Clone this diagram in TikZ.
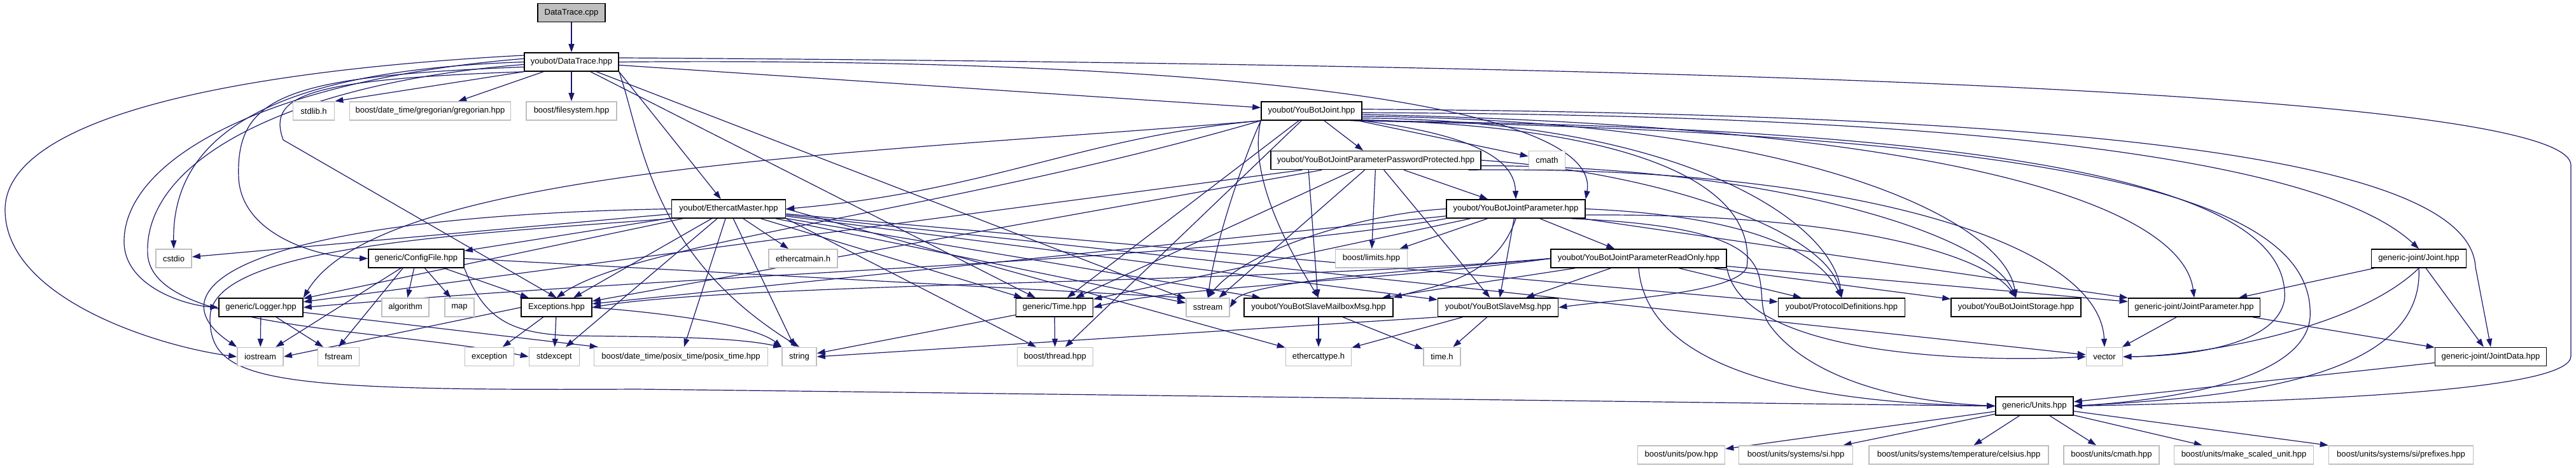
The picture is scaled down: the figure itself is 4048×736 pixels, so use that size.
\documentclass[tikz,border=0pt]{standalone}
\usepackage{fontspec}
\setmainfont{Liberation Sans}
\usetikzlibrary{arrows.meta,backgrounds}
\definecolor{linkblue}{HTML}{191970}
\definecolor{sysline}{HTML}{BFBFBF}
\definecolor{rootfill}{HTML}{BFBFBF}
\tikzset{
  filebox/.style={rectangle, line width=1.6pt, fill=white, minimum height=29pt,
    inner sep=0pt, font=\fontsize{13}{15}\selectfont},
  hdrbox/.style={filebox, draw=black},
  sysbox/.style={filebox, draw=sysline},
  rootbox/.style={hdrbox, fill=rootfill},
  dep/.style={draw=linkblue, line width=1.2pt, -{Triangle[length=13pt,width=9pt]}}
}
\newcommand{\hdr}[5]{%
  \node[hdrbox, minimum width=#4pt] (#1) at (#2,#3) {#5};}
\newcommand{\sys}[5]{%
  \node[sysbox, minimum width=#4pt] (#1) at (#2,#3) {#5};}

\begin{document}
\begin{tikzpicture}[x=1pt,y=-1pt]
  \useasboundingbox (0,0) rectangle (4048,736);
  \node[rootbox, minimum width=106pt] (dtcpp) at (898,20) {DataTrace.cpp};
  \hdr{dthpp}{898}{97.5}{148}{youbot/DataTrace.hpp}
  \sys{stdlibh}{493}{174.5}{65}{stdlib.h}
  \sys{greg}{676}{174.5}{253}{boost/date\_time/gregorian/gregorian.hpp}
  \sys{fsys}{898}{174.5}{142}{boost/filesystem.hpp}
  \hdr{ybjoint}{2061}{174.5}{158}{youbot/YouBotJoint.hpp}
  \hdr{ybpp}{2162}{252}{330}{youbot/YouBotJointParameterPasswordProtected.hpp}
  \sys{cmath}{2431}{252}{57}{cmath}
  \hdr{ecm}{1145}{328.5}{179}{youbot/EthercatMaster.hpp}
  \hdr{ybjp}{2382}{328.5}{218}{youbot/YouBotJointParameter.hpp}
  \sys{cstdio}{273}{406.5}{56}{cstdio}
  \hdr{cfg}{654}{406.5}{150}{generic/ConfigFile.hpp}
  \sys{ecmain}{1262}{406.5}{108}{ethercatmain.h}
  \sys{limits}{2155}{406.5}{113}{boost/limits.hpp}
  \hdr{ybro}{2575}{406.5}{276}{youbot/YouBotJointParameterReadOnly.hpp}
  \hdr{gjoint}{3801}{406.5}{149}{generic-joint/Joint.hpp}
  \hdr{logger}{410}{483.5}{132}{generic/Logger.hpp}
  \sys{algo}{637}{483.5}{74}{algorithm}
  \sys{map}{722}{483.5}{46}{map}
  \hdr{excep}{874.5}{483.5}{111}{Exceptions.hpp}
  \hdr{time}{1657}{483.5}{121}{generic/Time.hpp}
  \sys{sstream}{1898}{483.5}{68}{sstream}
  \hdr{mbox}{2072}{483.5}{234}{youbot/YouBotSlaveMailboxMsg.hpp}
  \hdr{smsg}{2354}{483.5}{189}{youbot/YouBotSlaveMsg.hpp}
  \hdr{proto}{2894}{483.5}{199}{youbot/ProtocolDefinitions.hpp}
  \hdr{jstore}{3168}{483.5}{204}{youbot/YouBotJointStorage.hpp}
  \hdr{gjparam}{3448}{483.5}{207}{generic-joint/JointParameter.hpp}
  \sys{iostream}{409}{561}{72}{iostream}
  \sys{fstream}{532}{561}{65}{fstream}
  \sys{exception}{769}{561}{77}{exception}
  \sys{stdexcept}{871}{561}{79}{stdexcept}
  \sys{posix}{1070}{561}{273}{boost/date\_time/posix\_time/posix\_time.hpp}
  \sys{string}{1256}{561}{54}{string}
  \sys{thread}{1658}{561}{119}{boost/thread.hpp}
  \sys{ecattype}{2072}{561}{103}{ethercattype.h}
  \sys{timeh}{2266}{561}{58}{time.h}
  \sys{vector}{3307}{561}{57}{vector}
  \hdr{gjdata}{3914}{561}{175}{generic-joint/JointData.hpp}
  \hdr{units}{3197}{638.5}{122}{generic/Units.hpp}
  \sys{upow}{2642}{715.5}{137}{boost/units/pow.hpp}
  \sys{usi}{2822}{715.5}{179}{boost/units/systems/si.hpp}
  \sys{ucels}{3078}{715.5}{282}{boost/units/systems/temperature/celsius.hpp}
  \sys{ucmath}{3318}{715.5}{150}{boost/units/cmath.hpp}
  \sys{uscaled}{3526}{715.5}{219}{boost/units/make\_scaled\_unit.hpp}
  \sys{uprefix}{3773}{715.5}{227}{boost/units/systems/si/prefixes.hpp}
  \begin{pgfonlayer}{background}
  \foreach \a/\b in {dtcpp/dthpp, dthpp/greg, dthpp/fsys, dthpp/ybjoint, dthpp/time, dthpp/sstream,
      ybjoint/ybpp, ybjoint/cmath, ybjoint/time, ybjoint/thread,
      ybpp/ybjp, ybpp/limits, ybpp/logger, ybpp/excep, ybpp/time, ybpp/sstream, ybpp/smsg,
      ybjp/limits, ybjp/ybro, ybjp/gjparam, ybjp/smsg, ybjp/time, ybjp/excep,
      ybro/mbox, ybro/smsg, ybro/proto, ybro/jstore, ybro/gjparam,
      ecm/cstdio, ecm/cfg, ecm/ecmain, ecm/logger, ecm/excep, ecm/time, ecm/sstream, ecm/string,
      ecm/stdexcept, ecm/posix, ecm/mbox, ecm/smsg, ecm/proto, ecm/vector,
      cfg/iostream, cfg/algo, cfg/map, cfg/excep,
      logger/iostream, logger/fstream, logger/posix,
      excep/exception, excep/stdexcept,
      time/thread, time/string,
      mbox/ecattype, mbox/timeh, smsg/ecattype, smsg/timeh,
      gjoint/gjparam, gjoint/gjdata, gjparam/vector, gjparam/gjdata, gjdata/units,
      units/upow, units/usi, units/ucels, units/ucmath, units/uscaled, units/uprefix}
    \draw[dep] (\a) -- (\b);
  \draw[dep] (dthpp.south west) -- (stdlibh.north east);
  \draw[dep] (dthpp.south east) -- (ecm);
  \draw[dep] ([xshift=60pt]ybpp.south west) -- (mbox);
  \draw[dep] (ecm.south east) -- (thread);
  \draw[dep] (ecm.east) -- (ecattype);
  \draw[dep] (excep.west) -- (iostream.east);
  \draw[dep] ([xshift=-21pt]cfg.south) -- (fstream.north);
  \draw[dep] (cfg.east) -- (sstream.north west);
  \draw[dep] (smsg.south west) -- (string.east);
  \draw[dep] (dthpp.172) .. controls (300,115) and (8,200) .. (8,330)
    .. controls (8,470) and (250,545) .. (iostream.west);
  \draw[dep] (dthpp.176) .. controls (420,125) and (195,250) .. (195,380)
    .. controls (195,450) and (290,480) .. (logger.west);
  \draw[dep] (dthpp.180) .. controls (450,110) and (270,200) .. (cstdio.north);
  \draw[dep] (dthpp.186) .. controls (450,120) and (370,150) .. (375,280)
    .. controls (380,370) and (500,405) .. (cfg.west);
  \draw[dep] (dthpp.south west) .. controls (480,125) and (420,150) .. (445,220) -- (excep.north);
  \draw[dep] (dthpp.183) .. controls (460,130) and (225,250) .. (232,400)
    .. controls (240,520) and (600,515) .. (stdexcept.west);
  \draw[dep] (dthpp.south east) .. controls (1010,220) and (1020,400) .. (string.north);
  \draw[dep] (dthpp.east) .. controls (1800,90) and (2520,150) .. (ybjp.north east);
  \draw[dep] (dthpp.5) .. controls (3200,105) and (4040,170) .. (4040,260) -- (4040,560)
    .. controls (4040,610) and (3700,630) .. (units.east);
  \draw[dep] (ybjoint.south west) .. controls (1700,215) and (1560,300) .. (ecm.east);
  \draw[dep] (ybjoint.south east) .. controls (2340,215) and (2380,260) .. (ybjp.north);
  \draw[dep] (ybjoint.south west) .. controls (1950,260) and (1910,380) .. (sstream.north);
  \draw[dep] (ybjoint.south west) .. controls (1960,280) and (2030,400) .. (mbox.north);
  \draw[dep] (ybjoint.south west) .. controls (1500,330) and (1000,380) .. (excep.north);
  \draw[dep] (ybjoint.south west) .. controls (1400,240) and (600,260) .. (logger.north east);
  \draw[dep] (ybjoint.-10) .. controls (2600,200) and (2760,300) .. (2745,420)
    .. controls (2730,460) and (2550,470) .. (smsg.east);
  \draw[dep] (ybjoint.-8) .. controls (2650,190) and (2880,350) .. (proto.north);
  \draw[dep] (ybjoint.-6) .. controls (2850,190) and (3150,350) .. (jstore.north);
  \draw[dep] (ybjoint.-2) .. controls (3100,180) and (3650,250) .. (gjoint.north);
  \draw[dep] (ybjoint.-4) .. controls (3100,200) and (3430,330) .. (gjparam.north);
  \draw[dep] (ybjoint.2) .. controls (3300,180) and (3880,250) .. (3890,420) -- (gjdata.north);
  \draw[dep] (ybjoint.-12) .. controls (3200,200) and (3600,300) .. (3590,470)
    .. controls (3580,540) and (3450,560) .. (vector.east);
  \draw[dep] (ybjoint.-14) .. controls (3300,210) and (3640,320) .. (3630,500)
    .. controls (3620,600) and (3400,630) .. (units.east);
  \draw[dep] (ybpp.east) .. controls (2600,270) and (2870,360) .. (proto.north);
  \draw[dep] (ybpp.-3) .. controls (2750,260) and (3120,360) .. (jstore.north);
  \draw[dep] (ybpp.-6) .. controls (2900,260) and (3300,380) .. (vector.north);
  \draw[dep] (ybjp.east) .. controls (2760,340) and (2860,400) .. (proto.north);
  \draw[dep] (ybjp.-5) .. controls (2900,335) and (3120,400) .. (jstore.north);
  \draw[dep] (ybjp.west) .. controls (2150,335) and (1960,390) .. (sstream.north);
  \draw[dep] (ybjp.south) .. controls (2350,440) and (2250,450) .. (mbox.north east);
  \draw[dep] (ybjp.-10) .. controls (2850,360) and (2740,450) .. (2780,510)
    .. controls (2830,580) and (2950,630) .. (units.west);
  \draw[dep] (ybjp.south west) .. controls (1900,410) and (1100,430) .. (logger.east);
  \draw[dep] (ybro.south east) .. controls (2740,560) and (3100,570) .. (vector.west);
  \draw[dep] (ybro.south) .. controls (2590,600) and (2900,635) .. (units.west);
  \draw[dep] (ybro.west) .. controls (2250,425) and (1960,440) .. (sstream.east);
  \draw[dep] (ybro.west) .. controls (2200,440) and (1850,450) .. (time.east);
  \draw[dep] (ybro.west) .. controls (2000,445) and (1150,445) .. (excep.east);
  \draw[dep] (ecm.west) .. controls (400,340) and (230,450) .. (iostream.north west);
  \draw[dep] (ecm.south west) .. controls (700,370) and (330,390) .. (330,500)
    .. controls (330,600) and (420,615) .. (1000,612)
    .. controls (2000,624) and (2900,636) .. (units.west);
  \draw[dep] (excep.east) .. controls (1080,495) and (1190,515) .. (string.north west);
  \draw[dep] (cfg.south east) .. controls (760,500) and (800,525) .. (900,528)
    .. controls (1050,530) and (1150,530) .. (string.north west);
  \draw[dep] (gjoint.south) .. controls (3700,520) and (3450,560) .. (vector.east);
  \draw[dep] (gjoint.south) .. controls (3810,600) and (3500,625) .. (units.east);
  \end{pgfonlayer}
\end{tikzpicture}
\end{document}
